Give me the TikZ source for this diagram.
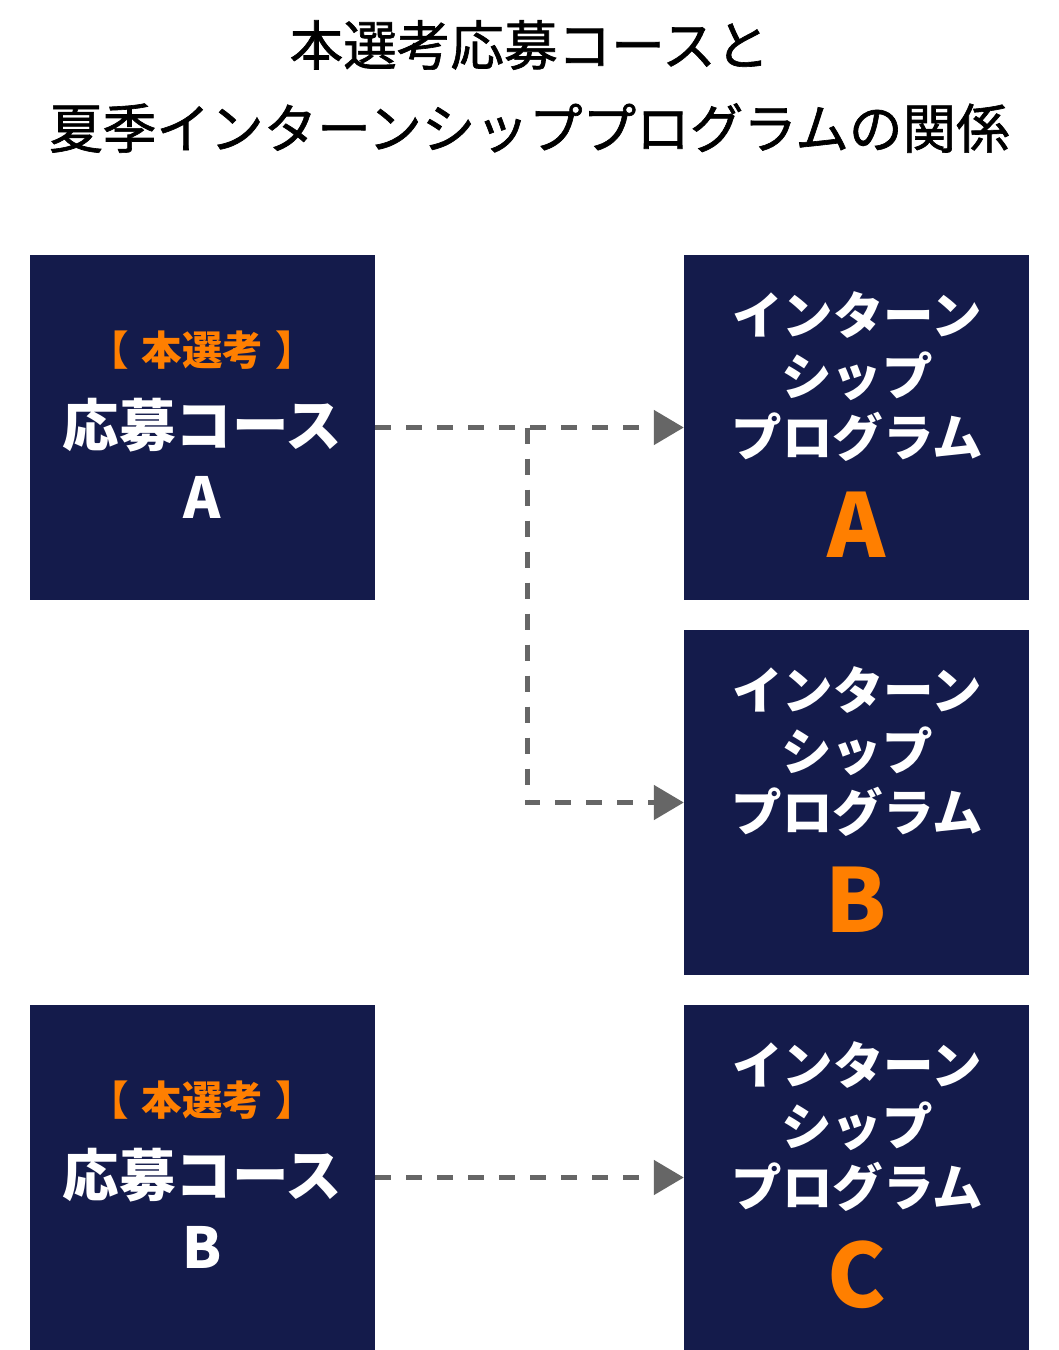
\documentclass[tikz,border=0pt]{standalone}
\usepackage{fontspec}
\setmainfont{Noto Sans CJK JP}
\newfontfamily\ttlfont{Noto Sans CJK JP}[FakeBold=1.2]
\usetikzlibrary{arrows.meta}
\definecolor{navy}{HTML}{141B4B}
\definecolor{orng}{HTML}{FF7F00}
\definecolor{arr}{HTML}{666666}
\begin{document}
\begin{tikzpicture}[x=1pt,y=-1pt,
  box/.style={fill=navy,draw=none,minimum width=345pt,minimum height=345pt,inner sep=0pt},
  ttl/.style={font=\ttlfont\fontsize{53.6}{60}\selectfont,inner sep=0pt},
  tag/.style={font=\fontsize{40.5}{44}\selectfont\bfseries,text=orng,inner sep=0pt},
  crs/.style={font=\fontsize{56.5}{62}\selectfont\bfseries,text=white,inner sep=0pt},
  prg/.style={font=\fontsize{50.5}{56}\selectfont\bfseries,text=white,inner sep=0pt},
  big/.style={font=\fontsize{88}{96}\selectfont\bfseries,text=orng,inner sep=0pt},
  link/.style={draw=arr,line width=5pt,dash pattern=on 16pt off 15pt,-{Triangle[length=30pt,width=34pt]}}]
\useasboundingbox (0,0) rectangle (1059,1350);
\fill[white] (0,0) rectangle (1059,1350);
% title
\node[ttl] (t1) at (529.5,45) {本選考応募コースと};
\node[ttl] (t2) at (529.5,128) {夏季インターンシッププログラムの関係};
% boxes
\node[box] (ca) at (202.5,427.5) {};
\node[box] (cb) at (202.5,1177.5) {};
\node[box] (pa) at (856.5,427.5) {};
\node[box] (pb) at (856.5,802.5) {};
\node[box] (pc) at (856.5,1177.5) {};
% course A
\node[tag] (caT) at (202.5,350) {【\hspace{3pt} 本選考 \hspace{3pt}】};
\node[crs] (caC) at (202.5,425) {応募コース};
\node[crs] (caL) at (202.5,497) {A};
% course B
\node[tag] (cbT) at (202.5,1100) {【\hspace{3pt} 本選考 \hspace{3pt}】};
\node[crs] (cbC) at (202.5,1175) {応募コース};
\node[crs] (cbL) at (202.5,1247) {B};
% programs
\foreach \n/\y/\l in {a/0/A,b/375/B,c/750/C}{
  \node[prg] (p\n1) at (857,315+\y) {インターン};
  \node[prg] (p\n2) at (857,376+\y) {シップ};
  \node[prg] (p\n3) at (857,437+\y) {プログラム};
  \node[big] (p\n4) at (856.5,525+\y) {\l};
}
% connectors
\coordinate (br) at (527,427.5);
\draw[link] (ca.east) -- (pa.west);
\draw[link] (br) |- (pb.west);
\draw[link] (cb.east) -- (pc.west);
\end{tikzpicture}
\end{document}
